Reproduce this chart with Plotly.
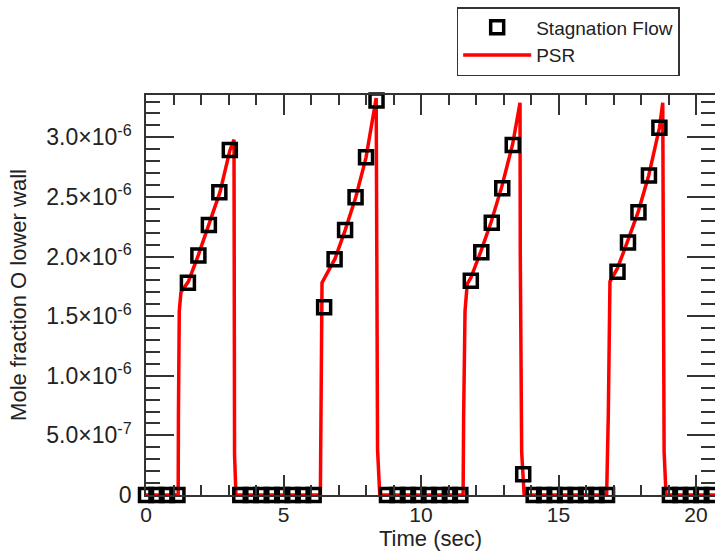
import plotly.graph_objects as go

# Stagnation Flow (open square markers)
stag_time = [0.0, 0.381, 0.762, 1.143, 1.524, 1.905, 2.286, 2.667, 3.048, 3.429,
             3.81, 4.191, 4.572, 4.953, 5.334, 5.715, 6.096, 6.477, 6.858, 7.239,
             7.62, 8.001, 8.382, 8.763, 9.144, 9.525, 9.906, 10.287, 10.668, 11.049,
             11.43, 11.811, 12.192, 12.573, 12.954, 13.335, 13.716, 14.097, 14.478, 14.859,
             15.24, 15.621, 16.002, 16.383, 16.764, 17.145, 17.526, 17.907, 18.288, 18.669,
             19.05, 19.431, 19.812, 20.193, 20.574]
stag_value = [0, 0, 0, 0, 1.781e-6, 2.008e-6, 2.265e-6, 2.539e-6, 2.894e-6, 0,
              0, 0, 0, 0, 0, 0, 0, 1.575e-6, 1.977e-6, 2.223e-6,
              2.497e-6, 2.833e-6, 3.308e-6, 0, 0, 0, 0, 0, 0, 0,
              0, 1.798e-6, 2.036e-6, 2.284e-6, 2.573e-6, 2.936e-6, 0.174e-6, 0, 0, 0,
              0, 0, 0, 0, 0, 1.873e-6, 2.117e-6, 2.372e-6, 2.679e-6, 3.081e-6,
              0, 0, 0, 0, 0]

# PSR (red line)
psr_time = [0.0, 1.17, 1.18, 1.21, 1.27, 1.54, 1.90, 2.29, 2.69, 3.05, 3.20, 3.22, 3.27,
            6.34, 6.36, 6.40, 6.87, 7.24, 7.63, 8.00, 8.37, 8.38, 8.42, 8.50,
            11.53, 11.55, 11.60, 11.68, 11.81, 12.17, 12.55, 12.93, 13.33, 13.60, 13.61, 13.66, 13.75,
            16.75, 16.81, 16.87, 17.14, 17.50, 17.89, 18.28, 18.67, 18.79, 18.80, 18.84, 18.91,
            20.8]
psr_value = [0, 0, 0.70e-6, 1.54e-6, 1.70e-6, 1.79e-6, 2.01e-6, 2.27e-6, 2.54e-6, 2.89e-6, 2.98e-6, 0.34e-6, 0,
             0, 0.67e-6, 1.78e-6, 1.98e-6, 2.22e-6, 2.50e-6, 2.83e-6, 3.33e-6, 2.05e-6, 0.38e-6, 0,
             0, 0.66e-6, 1.54e-6, 1.77e-6, 1.82e-6, 2.04e-6, 2.29e-6, 2.58e-6, 2.94e-6, 3.29e-6, 2.01e-6, 0.36e-6, 0,
             0, 0.67e-6, 1.79e-6, 1.90e-6, 2.12e-6, 2.37e-6, 2.68e-6, 3.08e-6, 3.29e-6, 2.03e-6, 0.36e-6, 0,
             0]

x_ticks = [0, 5, 10, 15, 20]
x_ticktext = ["0", "5", "10", "15", "20"]
y_ticks = [0, 5e-7, 1e-6, 1.5e-6, 2e-6, 2.5e-6, 3e-6]
y_ticktext = ["0", "5.0×10<sup>-7</sup>", "1.0×10<sup>-6</sup>", "1.5×10<sup>-6</sup>",
              "2.0×10<sup>-6</sup>", "2.5×10<sup>-6</sup>", "3.0×10<sup>-6</sup>"]

FONT = "Liberation Sans, Arial, Helvetica, sans-serif"
AX = "#333333"
TXT = "#222222"

fig = go.Figure()
fig.add_trace(go.Scatter(
    x=psr_time, y=psr_value, mode="lines", name="PSR",
    line=dict(color="#ff0000", width=3.5), legendrank=2,
))
fig.add_trace(go.Scatter(
    x=stag_time, y=stag_value, mode="markers", name="Stagnation Flow",
    marker=dict(symbol="square-open", size=13, color="#000000",
                line=dict(color="#000000", width=3.5)),
    cliponaxis=False, legendrank=1,
))

fig.update_layout(
    width=715, height=556,
    margin=dict(l=146, r=0, t=95, b=61),
    paper_bgcolor="white", plot_bgcolor="white",
    font=dict(family=FONT, color=TXT),
    showlegend=True,
    legend=dict(
        x=0.546, y=1.22, xanchor="left", yanchor="top",
        bgcolor="white", bordercolor=AX, borderwidth=1.5,
        font=dict(family=FONT, size=19, color=TXT),
        itemwidth=68, tracegroupgap=0,
    ),
    xaxis=dict(
        range=[0, 20.69], tickvals=x_ticks, ticktext=x_ticktext,
        ticks="inside", ticklen=20, tickwidth=1.5, tickcolor=AX,
        minor=dict(dtick=1, tick0=0, ticks="inside", ticklen=10, tickwidth=1.5, tickcolor=AX, showgrid=False),
        showline=True, linecolor=AX, linewidth=1.5, mirror="ticks",
        showgrid=False, zeroline=False, automargin=False,
        tickfont=dict(family=FONT, size=21, color=TXT),
        title=dict(text="Time (sec)", font=dict(family=FONT, size=22, color=TXT), standoff=6),
    ),
    yaxis=dict(
        range=[0, 3.355e-6], tickvals=y_ticks, ticktext=y_ticktext,
        ticks="inside", ticklen=28, tickwidth=1.5, tickcolor=AX,
        minor=dict(dtick=1e-7, tick0=0, ticks="inside", ticklen=14, tickwidth=1.5, tickcolor=AX, showgrid=False),
        showline=True, linecolor=AX, linewidth=1.5, mirror="ticks",
        showgrid=False, zeroline=False, automargin=False,
        ticklabelstandoff=8,
        tickfont=dict(family=FONT, size=23, color=TXT),
        title=dict(text="Mole fraction O lower wall", font=dict(family=FONT, size=22, color=TXT), standoff=14),
    ),
)

fig.write_html("out.html", config={"displayModeBar": False},
               post_script="document.body.style.margin='0';")
